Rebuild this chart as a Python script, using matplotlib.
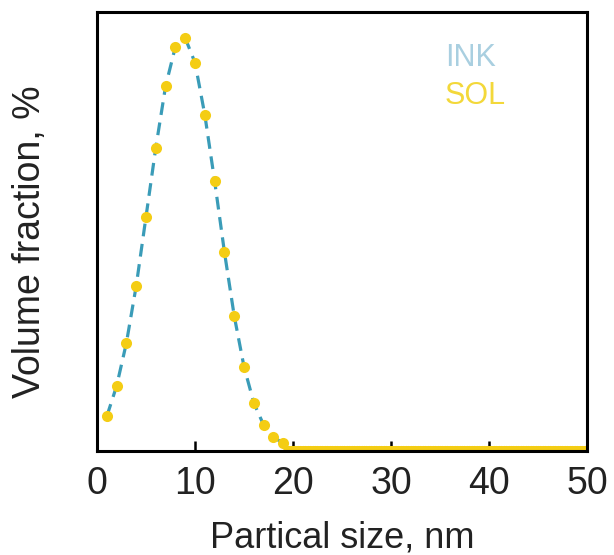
import numpy as np
import matplotlib.pyplot as plt

plt.rcParams['font.family'] = ['Liberation Sans', 'DejaVu Sans']

# particle size distribution (arbitrary y units)
size_nm = np.arange(1, 20)
vol_frac = [0.85, 1.59, 2.64, 4.03, 5.71, 7.40, 8.90, 9.86, 10.07, 9.47,
            8.20, 6.59, 4.86, 3.30, 2.06, 1.18, 0.64, 0.35, 0.19]
# flat tail, dots are packed so tight they look like a line
tail_nm = np.arange(19.5, 50.01, 0.25)
tail_frac = np.zeros(len(tail_nm))
labels = ['INK', 'SOL']
xticks = [0, 10, 20, 30, 40, 50]

x_all = np.concatenate([size_nm, tail_nm])
y_all = np.concatenate([vol_frac, tail_frac])

fig = plt.figure(figsize=(6.14, 5.55), dpi=100)
ax = fig.add_axes([0.158, 0.187, 0.798, 0.791])

ax.plot(x_all, y_all, ls=(0, (4, 2.4)), color='#3a9cb8', lw=2.3, zorder=2)
ax.plot(x_all, y_all, 'o', color='#f4cd14', ms=8, mec='none', zorder=3)

ax.text(0.71, 0.895, labels[0], color='#a9cfe0', fontsize=22, transform=ax.transAxes, va='center')
ax.text(0.71, 0.808, labels[1], color='#f3d83a', fontsize=22, transform=ax.transAxes, va='center')

ax.set_xlim(0, 50)
ax.set_ylim(0, 10.7)
ax.set_xticks(xticks)
ax.set_yticks([])
ax.tick_params(axis='x', direction='in', length=7, width=1.8, labelsize=27, pad=11, labelcolor='#222222')
for s in ax.spines.values():
    s.set_linewidth(2.2)
    s.set_zorder(4)
ax.set_xlabel('Partical size, nm', fontsize=26, color='#222222')
ax.set_ylabel('Volume fraction, %', fontsize=27, color='#222222')
ax.xaxis.set_label_coords(0.5, -0.158)
ax.yaxis.set_label_coords(-0.1, 0.478)

fig.savefig('out.png', dpi=100)
